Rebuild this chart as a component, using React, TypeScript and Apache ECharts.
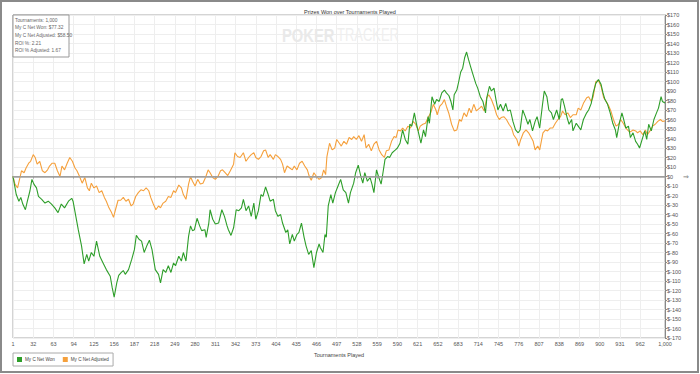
import React, { useEffect, useRef } from "react";
import * as echarts from "echarts";

// ---- data (tournament number, dollars) ----
const netWonPoints: [number, number][] = [
  [1, 0], [6, -19], [10, -26], [13, -22], [16, -29], [20, -35], [23, -26], [27, -15], [30, -3], [33, -8],
  [37, -12], [40, -21], [45, -24], [50, -28], [55, -26], [60, -29], [65, -33], [70, -38], [75, -29], [80, -33],
  [86, -26], [91, -23], [93, -26], [101, -56], [106, -73], [110, -92], [114, -82], [117, -89], [121, -80], [125, -84],
  [129, -68], [134, -84], [139, -91], [144, -98], [150, -105], [153, -117], [156, -127], [160, -112], [163, -104], [167, -101],
  [170, -99], [173, -103], [178, -98], [183, -87], [187, -77], [190, -62], [194, -66], [198, -68], [202, -80], [206, -73],
  [210, -67], [214, -77], [219, -98], [224, -103], [227, -112], [231, -98], [235, -101], [239, -94], [243, -101], [247, -91],
  [250, -94], [255, -84], [259, -89], [262, -80], [266, -89], [270, -63], [273, -52], [276, -57], [279, -56], [283, -44],
  [287, -52], [290, -57], [295, -56], [297, -64], [301, -49], [303, -35], [307, -45], [311, -50], [316, -49], [321, -35],
  [325, -42], [329, -52], [331, -56], [335, -62], [339, -54], [343, -35], [347, -36], [351, -33], [354, -24], [358, -36],
  [362, -31], [366, -42], [370, -28], [373, -45], [377, -36], [381, -19], [384, -21], [388, -11], [392, -19], [395, -26],
  [400, -24], [403, -36], [407, -42], [411, -40], [414, -49], [419, -59], [422, -56], [425, -71], [429, -61], [432, -68],
  [436, -61], [439, -59], [443, -49], [447, -64], [450, -73], [454, -82], [458, -78], [462, -96], [466, -80], [470, -71],
  [472, -75], [476, -80], [479, -61], [481, -64], [484, -31], [488, -19], [491, -28], [495, -17], [499, -10], [503, -3],
  [507, -14], [511, -17], [515, -28], [518, -17], [523, -7], [526, 4], [530, 12], [534, 0], [537, -7], [540, 4],
  [544, -5], [548, -1], [551, -8], [554, -17], [558, 7], [561, 0], [565, -8], [567, 0], [571, 18], [575, 21],
  [578, 20], [582, 25], [587, 28], [590, 30], [594, 35], [598, 49], [602, 39], [606, 34], [609, 55], [612, 53],
  [616, 67], [619, 56], [623, 44], [626, 35], [630, 49], [633, 42], [637, 63], [639, 56], [643, 84], [647, 76],
  [650, 81], [654, 79], [658, 88], [662, 91], [665, 88], [669, 85], [672, 79], [675, 70], [677, 86], [681, 91],
  [684, 100], [687, 110], [690, 114], [693, 125], [696, 131], [699, 123], [702, 116], [705, 109], [710, 98], [713, 93],
  [717, 84], [721, 79], [725, 67], [727, 83], [731, 95], [734, 90], [738, 93], [741, 81], [744, 70], [748, 76],
  [752, 69], [756, 77], [759, 69], [763, 70], [767, 58], [771, 49], [775, 46], [778, 49], [782, 70], [786, 63],
  [790, 55], [793, 60], [797, 48], [801, 58], [804, 63], [808, 51], [812, 74], [815, 90], [819, 84], [822, 70],
  [826, 67], [829, 60], [834, 70], [838, 60], [841, 81], [843, 82], [846, 74], [850, 62], [853, 55], [857, 60],
  [859, 48], [864, 56], [867, 53], [871, 49], [875, 60], [880, 67], [883, 70], [887, 77], [890, 88], [894, 98],
  [898, 102], [902, 97], [905, 88], [908, 81], [912, 76], [916, 67], [920, 56], [924, 49], [926, 41], [930, 56],
  [934, 67], [936, 62], [940, 51], [944, 53], [947, 41], [951, 46], [955, 37], [958, 34], [961, 30], [965, 39],
  [969, 48], [972, 39], [975, 55], [979, 48], [983, 60], [987, 67], [990, 72], [994, 84], [996, 79], [1000, 77.32],
];

const netAdjustedPoints: [number, number][] = [
  [1, 0], [4, -8], [8, -12], [11, -3], [14, 6], [18, 4], [21, 9], [25, 14], [28, 16], [32, 23],
  [35, 20], [38, 13], [42, 16], [46, 6], [50, 4], [54, 7], [57, 11], [61, 14], [65, 14], [69, 6],
  [73, 0], [76, 11], [80, 7], [84, 14], [88, 20], [92, 16], [96, 9], [99, 6], [103, 0], [107, -7],
  [111, -1], [115, -12], [118, -15], [121, -7], [125, -12], [129, -10], [133, -17], [137, -15], [141, -22], [144, -26],
  [148, -33], [152, -38], [155, -43], [158, -35], [162, -25], [166, -25], [170, -22], [174, -26], [178, -24], [182, -31],
  [185, -29], [189, -21], [193, -17], [197, -14], [201, -15], [205, -12], [209, -15], [212, -22], [216, -29], [220, -35],
  [224, -31], [227, -33], [231, -28], [235, -26], [239, -21], [243, -22], [247, -15], [250, -17], [255, -9], [259, -12],
  [262, -19], [266, -24], [270, -8], [273, 0], [276, -5], [280, -10], [284, -3], [288, -8], [292, -7], [296, -1],
  [300, 7], [303, 4], [307, -1], [311, -3], [315, 0], [319, 6], [322, 7], [326, 4], [330, 1], [334, 6],
  [339, 13], [341, 25], [345, 21], [349, 20], [354, 25], [358, 16], [362, 20], [366, 23], [370, 25], [373, 20],
  [377, 18], [381, 21], [385, 27], [388, 28], [392, 20], [395, 23], [400, 18], [403, 23], [407, 21], [411, 18],
  [414, 13], [417, 4], [421, 11], [425, 9], [429, 7], [432, 11], [436, 7], [440, 14], [444, 16], [448, 11],
  [452, 7], [455, 0], [458, -4], [462, 4], [466, 0], [470, -3], [474, -1], [477, 7], [480, 2], [482, 21],
  [486, 35], [490, 28], [494, 30], [497, 39], [501, 35], [504, 32], [508, 37], [512, 34], [516, 41], [520, 39],
  [523, 42], [527, 39], [531, 43], [535, 37], [539, 44], [542, 30], [546, 34], [550, 27], [554, 34], [558, 37],
  [562, 28], [566, 23], [570, 20], [573, 27], [577, 28], [581, 37], [585, 42], [588, 41], [591, 49], [595, 48],
  [598, 51], [602, 48], [606, 53], [610, 51], [614, 58], [618, 55], [622, 48], [625, 53], [629, 55], [633, 56],
  [637, 62], [641, 67], [645, 76], [649, 70], [651, 65], [655, 74], [659, 77], [662, 81], [665, 74], [669, 66],
  [673, 55], [677, 48], [681, 49], [685, 60], [688, 58], [692, 67], [696, 63], [700, 72], [703, 67], [707, 76],
  [711, 69], [716, 72], [719, 74], [723, 69], [727, 83], [730, 86], [734, 81], [738, 74], [742, 65], [746, 60],
  [749, 62], [753, 63], [757, 60], [761, 55], [765, 51], [768, 44], [773, 39], [776, 32], [779, 39], [783, 46],
  [787, 49], [791, 46], [795, 41], [798, 37], [801, 28], [805, 32], [808, 28], [813, 46], [817, 49], [820, 48],
  [824, 51], [828, 51], [832, 56], [836, 60], [840, 63], [843, 69], [847, 65], [851, 67], [855, 62], [859, 65],
  [864, 65], [867, 72], [871, 70], [875, 77], [880, 83], [883, 84], [887, 79], [890, 84], [894, 100], [898, 101],
  [902, 95], [906, 83], [910, 79], [914, 74], [917, 69], [921, 60], [925, 53], [929, 55], [932, 60], [936, 56],
  [940, 51], [944, 48], [947, 47], [951, 49], [955, 48], [958, 46], [962, 48], [966, 44], [970, 49], [973, 44],
  [977, 48], [981, 53], [985, 55], [989, 58], [993, 60], [996, 58], [1000, 58.5],
];

const xTickValues = [
  1, 32, 63, 94, 125, 156, 187, 218, 249, 280, 311, 342, 373, 404, 435, 466,
  497, 528, 559, 590, 621, 652, 683, 714, 745, 776, 807, 838, 869, 900, 931, 962, 1000,
];

const seriesNames = ["My C Net Won", "My C Net Adjusted"];
const infoLines = [
  "Tournaments: 1,000",
  "My C Net Won: $77.32",
  "My C Net Adjusted: $58.50",
  "ROI %: 2.21",
  "ROI % Adjusted: 1.67",
];
const chartTitle = "Prizes Won over Tournaments Played";
const xAxisName = "Tournaments Played";

const FONT = "'Liberation Sans', Arial, sans-serif";
const GREEN = "#2e9e2a";
const ORANGE = "#f5a03c";

export default function App() {
  const ref = useRef<HTMLDivElement>(null);
  useEffect(() => {
    if (!ref.current) return;
    const chart = echarts.init(ref.current, undefined, { renderer: "svg" });
    chart.setOption({
      animation: false,
      backgroundColor: "#ffffff",
      textStyle: { fontFamily: FONT },
      title: {
        text: chartTitle,
        left: "center",
        top: 4,
        textStyle: { fontSize: 5.5, fontWeight: "normal", color: "#333", fontFamily: FONT },
      },
      grid: {
        left: 13,
        top: 15,
        right: 35,
        bottom: 36,
        show: true,
        borderColor: "#a8a8a8",
        borderWidth: 1,
      },
      legend: {
        data: seriesNames,
        left: 13,
        top: 353,
        orient: "horizontal",
        icon: "rect",
        itemWidth: 5,
        itemHeight: 5,
        itemGap: 8,
        padding: [4, 4],
        borderColor: "#aaa",
        borderWidth: 1,
        textStyle: { fontSize: 4.6, color: "#444", fontFamily: FONT, padding: [0, 0, 0, -2] },
      },
      xAxis: {
        type: "value",
        min: 1,
        max: 1000,
        name: xAxisName,
        nameLocation: "middle",
        nameGap: 12,
        nameTextStyle: { fontSize: 5.5, color: "#444", fontFamily: FONT },
        axisLine: { show: true, lineStyle: { color: "#999", width: 1 } },
        axisTick: { show: true, length: 2, customValues: xTickValues, lineStyle: { color: "#999" } },
        axisLabel: {
          customValues: xTickValues,
          fontSize: 5.5,
          color: "#555",
          margin: 3,
          fontFamily: FONT,
          formatter: (v: number) => v.toLocaleString("en-US"),
        },
        splitLine: { show: true, lineStyle: { color: "#eeeeee", width: 1 } },
      },
      yAxis: {
        type: "value",
        position: "right",
        min: -170,
        max: 170,
        interval: 10,
        axisLine: { show: true, lineStyle: { color: "#888", width: 1 } },
        axisTick: { show: true, length: 2, lineStyle: { color: "#888" } },
        axisLabel: {
          fontSize: 5.5,
          color: "#555",
          margin: 2,
          fontFamily: FONT,
          formatter: (v: number) => "$" + v,
        },
        splitLine: { show: true, lineStyle: { color: "#eeeeee", width: 1 } },
      },
      series: [
        {
          name: seriesNames[1],
          type: "line",
          data: netAdjustedPoints,
          showSymbol: false,
          symbol: "none",
          itemStyle: { color: ORANGE },
          lineStyle: { color: ORANGE, width: 1.1 },
          markLine: {
            silent: true,
            symbol: "none",
            label: { show: false },
            lineStyle: { color: "#a0a0a0", width: 1.5, type: "solid" },
            data: [{ yAxis: 0 }],
          },
          z: 3,
        },
        {
          name: seriesNames[0],
          type: "line",
          data: netWonPoints,
          showSymbol: false,
          symbol: "none",
          itemStyle: { color: GREEN },
          lineStyle: { color: GREEN, width: 1.1 },
          z: 4,
        },
      ],
      graphic: [
        {
          type: "rect",
          shape: { x: 1, y: 1, width: 697, height: 371 },
          style: { fill: "none", stroke: "#8a8a8a", lineWidth: 2 },
          silent: true,
          z: 10,
        },
        {
          type: "text",
          x: 282,
          y: 35,
          scaleX: 0.82,
          style: { text: "POKER", fontSize: 18, fontWeight: "bold", fill: "#e9e9e9", fontFamily: FONT, verticalAlign: "middle" },
          silent: true,
          z: 1,
        },
        {
          type: "text",
          x: 337,
          y: 35,
          scaleX: 0.72,
          style: { text: "TRACKER", fontSize: 18, fill: "#efefef", fontFamily: FONT, verticalAlign: "middle" },
          silent: true,
          z: 1,
        },
        {
          type: "rect",
          shape: { x: 13, y: 15, width: 56, height: 42 },
          style: { fill: "#ffffff", stroke: "#999", lineWidth: 1 },
          silent: true,
          z: 5,
        },
        ...infoLines.map((t, i) => ({
          type: "text",
          x: 15,
          y: 20 + i * 7.7,
          style: { text: t, fontSize: 4.8, fill: "#666", fontFamily: FONT, verticalAlign: "middle" },
          silent: true,
          z: 6,
        })),
        {
          type: "text",
          x: 686,
          y: 177,
          style: { text: "⇒", fontSize: 7, fill: "#777", fontFamily: "DejaVu Sans", align: "center", verticalAlign: "middle" },
          silent: true,
          z: 6,
        },
      ],
    });
    return () => chart.dispose();
  }, []);
  return (
    <div
      ref={ref}
      style={{ position: "absolute", left: 0, top: 0, width: 700, height: 374, background: "#fff" }}
    />
  );
}
